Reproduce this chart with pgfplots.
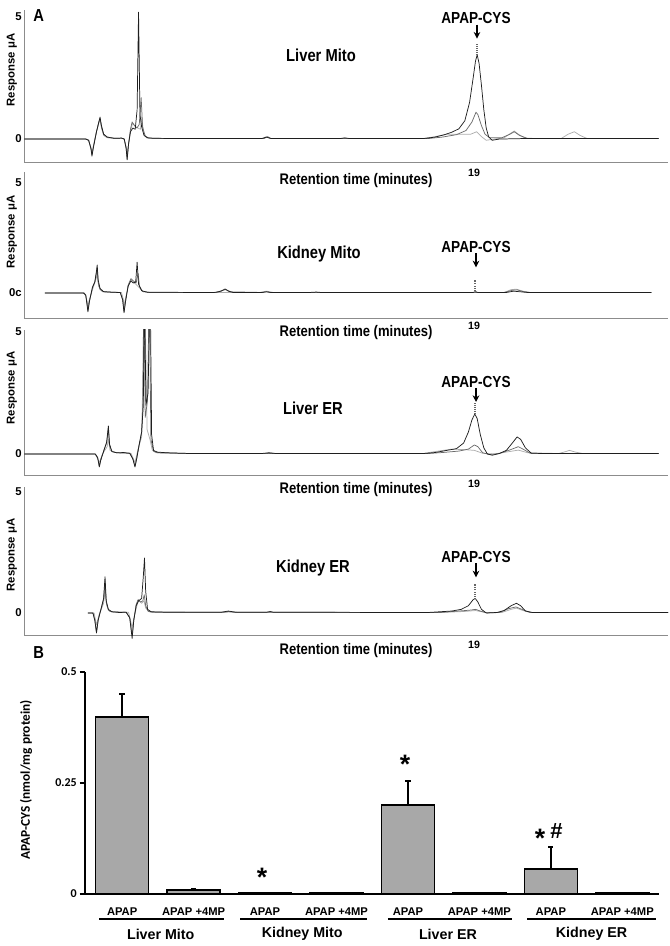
\documentclass[border=0pt]{standalone}
\usepackage{pgfplots}
\pgfplotsset{compat=1.18}
\usepackage{fontspec}
\setmainfont{Liberation Sans}
\newfontfamily\narrowf{Liberation Sans}[FakeStretch=0.85]
\newfontfamily\calf{Carlito}
\usetikzlibrary{arrows.meta}
\definecolor{trA}{gray}{0.12}
\definecolor{trB}{gray}{0.42}
\definecolor{trC}{gray}{0.68}
\definecolor{axg}{gray}{0.55}
\definecolor{barfill}{gray}{0.66}
\pgfplotsset{
 chrom/.style={scale only axis, width=483pt, xmin=0, xmax=27.1, anchor=south west,
   axis lines=left, axis line style={-, draw=axg, line width=0.7pt},
   xtick=\empty, ytick={0,5}, major tick length=0pt,
   yticklabel style={font=\bfseries\fontsize{8.5}{10}\selectfont, inner sep=1.5pt},
   every axis plot/.append style={line width=0.55pt, line join=round}},
}
\newcommand{\lab}{\narrowf\bfseries\fontsize{11.5}{13}\selectfont}
\newcommand{\labb}{\narrowf\bfseries\fontsize{13}{15}\selectfont}
\newcommand{\labc}{\narrowf\bfseries\fontsize{12}{14}\selectfont}
\newcommand{\catf}{\bfseries\fontsize{8.4}{9}\selectfont}
\newcommand{\grpf}{\bfseries\fontsize{10.7}{13}\selectfont}
\newcommand{\starf}{\bfseries\fontsize{20}{22}\selectfont}
\newcommand{\apap}[2]{%
  \node[font=\labc] at (#1) {APAP-CYS};
  \draw[-{Stealth[length=5pt,width=5pt]}, line width=1.6pt] (#2) -- ++(0,-10.5pt);}
\begin{document}
\begin{tikzpicture}
\useasboundingbox (0,0) rectangle (501.75pt,709.5pt);

% ---------------- Panel 1: Liver Mito
\begin{axis}[chrom, at={(18pt,588pt)}, height=114.2pt, ymin=-0.94, ymax=5.3, yticklabels={0,5}]
\addplot[trC] coordinates {(0,0.0) (2.6,0) (2.72,-0.05) (2.82,-0.35) (2.86,-0.6) (2.92,-0.3) (3.05,0.3) (3.15,0.65) (3.2,0.8) (3.26,0.45) (3.35,0.15) (3.5,0.05) (4.2,0.02) (4.3,-0.3) (4.34,-0.6) (4.42,-0.1) (4.5,0.4) (4.57,0.65) (4.7,0.5) (4.9,0.4) (4.96,0.9) (5.02,0.3) (5.15,0.05) (5.5,0.02) (10.05,0.02) (10.2,0.1) (10.35,0.02) (16.8,0.02) (17.3,0.1) (17.8,0.2) (18.3,0.2) (18.8,0.2) (19.05,0.3) (19.25,0.1) (19.45,-0.05) (19.8,0.0) (20.2,0.05) (20.5,0.25) (20.63,0.33) (20.8,0.2) (21.1,0.03) (22.6,0.02) (22.9,0.2) (23.16,0.3) (23.4,0.15) (23.7,0.02) (26.7,0.02)};
\addplot[trB] coordinates {(0,0) (2.6,0) (2.72,-0.05) (2.82,-0.4) (2.86,-0.65) (2.92,-0.3) (3.05,0.3) (3.15,0.7) (3.2,0.85) (3.26,0.5) (3.35,0.2) (3.5,0.08) (3.8,0.03) (4.1,0.04) (4.22,0.0) (4.3,-0.4) (4.34,-0.8) (4.4,-0.2) (4.48,0.4) (4.55,0.7) (4.65,0.55) (4.75,0.45) (4.85,0.6) (4.93,1.7) (4.99,0.5) (5.1,0.12) (5.25,0.04) (6,0.02) (10.1,0.02) (10.25,0.1) (10.4,0.02) (17.0,0.02) (17.6,0.08) (18.2,0.18) (18.6,0.35) (18.85,0.7) (19.02,1.1) (19.1,1.0) (19.25,0.55) (19.4,0.2) (19.6,0.05) (20.1,0.05) (20.45,0.2) (20.63,0.3) (20.85,0.15) (21.2,0.02) (26.7,0.02)};
\addplot[trA] coordinates {(0,0) (2.6,0) (2.72,-0.05) (2.82,-0.4) (2.86,-0.7) (2.92,-0.35) (3.05,0.3) (3.15,0.7) (3.2,0.9) (3.26,0.55) (3.35,0.2) (3.5,0.08) (3.8,0.03) (4.1,0.04) (4.22,0.0) (4.3,-0.4) (4.34,-0.85) (4.4,-0.2) (4.48,0.3) (4.58,0.45) (4.68,0.4) (4.76,1.2) (4.82,5.2) (4.88,1.0) (4.95,0.5) (5.05,0.15) (5.2,0.05) (5.5,0.03) (7,0.02) (10.0,0.02) (10.2,0.08) (10.4,0.02) (13.3,0.02) (13.5,0.05) (13.7,0.02) (16.8,0.02) (17.3,0.08) (17.7,0.18) (18.0,0.28) (18.3,0.42) (18.55,0.75) (18.75,1.5) (18.9,2.5) (19.0,3.2) (19.07,3.45) (19.15,3.1) (19.25,2.2) (19.35,1.2) (19.45,0.45) (19.55,0.1) (19.7,-0.05) (20.0,0.0) (21,0.02) (26.7,0.02)};
\addplot[black!60, densely dotted, line width=1.2pt] coordinates {(19.07,3.45) (19.07,3.95)};
\end{axis}

% ---------------- Panel 2: Kidney Mito
\begin{axis}[chrom, at={(18pt,471pt)}, height=109.5pt, ymin=-1.14, ymax=5.5, yticklabels={0c,5}]
\addplot[trC] coordinates {(0.88,0) (2.55,0) (2.66,-0.4) (2.69,-0.6) (2.75,-0.3) (2.9,0.2) (3.05,0.7) (3.08,0.9) (3.14,0.3) (3.3,0.05) (4.1,0.02) (4.18,-0.3) (4.21,-0.6) (4.28,-0.2) (4.4,0.35) (4.52,0.6) (4.65,0.45) (4.8,0.3) (5.0,0.06) (5.3,0.02) (9.9,0.02) (10.2,0.08) (10.5,0.02) (20.2,0.02) (20.5,0.15) (20.72,0.17) (21.0,0.08) (21.3,0.02) (26.4,0.02)};
\addplot[trB] coordinates {(0.88,0) (2.5,0) (2.6,-0.1) (2.66,-0.55) (2.69,-0.8) (2.75,-0.4) (2.88,0.25) (2.98,0.5) (3.05,0.9) (3.08,1.15) (3.12,0.5) (3.2,0.15) (3.35,0.05) (4.05,0.02) (4.15,-0.3) (4.21,-0.85) (4.27,-0.4) (4.38,0.35) (4.5,0.65) (4.6,0.55) (4.72,0.45) (4.8,0.9) (4.86,0.3) (5.0,0.06) (5.3,0.02) (8.1,0.02) (8.35,0.12) (8.5,0.15) (8.7,0.05) (10.05,0.02) (10.2,0.06) (10.35,0.02) (20.2,0.02) (20.55,0.12) (20.75,0.14) (21.0,0.06) (21.3,0.02) (26.4,0.02)};
\addplot[trA] coordinates {(0.88,0) (2.5,0) (2.6,-0.1) (2.66,-0.6) (2.69,-0.86) (2.75,-0.4) (2.88,0.25) (2.98,0.5) (3.05,1.0) (3.08,1.27) (3.12,0.6) (3.2,0.2) (3.35,0.06) (3.7,0.03) (4.05,0.02) (4.15,-0.3) (4.21,-0.9) (4.27,-0.4) (4.38,0.3) (4.5,0.55) (4.6,0.45) (4.7,0.5) (4.76,1.4) (4.82,0.4) (4.95,0.1) (5.2,0.03) (8.0,0.02) (8.3,0.08) (8.46,0.18) (8.6,0.08) (8.8,0.02) (10.0,0.02) (10.2,0.05) (10.4,0.02) (12,0.02) (12.3,0.04) (12.5,0.02) (18.9,0.02) (19.0,0.06) (19.1,0.02) (20.3,0.02) (20.6,0.08) (20.9,0.05) (21.2,0.02) (26.4,0.02)};
\addplot[black!60, densely dotted, line width=1.2pt] coordinates {(18.99,0.02) (18.99,0.6)};
\end{axis}

% ---------------- Panel 3: Liver ER
\begin{axis}[chrom, at={(18pt,353.25pt)}, height=109.1pt, ymin=-0.86, ymax=5.1, yticklabels={0,5}]
\addplot[trC] coordinates {(0,0) (3.0,0) (3.17,-0.35) (3.3,0.0) (3.5,0.3) (3.55,0.6) (3.62,0.15) (3.9,0.05) (4.5,0.03) (4.67,-0.35) (4.8,0.2) (4.95,0.7) (5.08,7) (5.18,1.0) (5.3,0.6) (5.4,0.15) (5.55,0.05) (5.8,0.03) (7,0.02) (10.1,0.02) (10.35,0.05) (10.6,0.02) (16.8,0.02) (17.3,0.1) (18.0,0.2) (18.5,0.18) (18.95,0.15) (19.3,0.03) (19.8,0.0) (20.3,0.08) (20.8,0.16) (21.2,0.05) (22.5,0.02) (22.8,0.1) (22.95,0.15) (23.2,0.08) (23.5,0.02) (26.7,0.02)};
\addplot[trB] coordinates {(0,0) (3.0,0) (3.1,-0.15) (3.17,-0.5) (3.23,-0.25) (3.38,0.2) (3.48,0.45) (3.55,1.05) (3.6,0.35) (3.7,0.1) (3.9,0.05) (4.45,0.03) (4.58,-0.2) (4.67,-0.5) (4.74,-0.2) (4.85,0.4) (4.95,0.9) (5.0,1.8) (5.04,7) (5.1,1.5) (5.2,2.2) (5.27,7) (5.34,0.6) (5.45,0.12) (5.6,0.06) (7,0.02) (17.0,0.02) (17.6,0.06) (18.3,0.12) (18.7,0.2) (18.95,0.37) (19.1,0.3) (19.3,0.05) (19.6,-0.02) (20.0,0.02) (20.4,0.15) (20.8,0.3) (21.0,0.2) (21.3,0.03) (22,0.02) (26.7,0.02)};
\addplot[trA] coordinates {(0,0) (3.0,0) (3.1,-0.15) (3.17,-0.53) (3.23,-0.25) (3.38,0.2) (3.48,0.5) (3.55,1.15) (3.6,0.4) (3.7,0.1) (3.9,0.05) (4.2,0.06) (4.45,0.03) (4.58,-0.2) (4.67,-0.53) (4.74,-0.2) (4.85,0.4) (4.95,0.9) (5.02,2.0) (5.07,7) (5.13,2.0) (5.22,2.5) (5.31,7) (5.37,0.8) (5.45,0.15) (5.6,0.08) (6,0.05) (7,0.02) (10,0.02) (10.3,0.05) (10.6,0.02) (16.8,0.02) (17.3,0.06) (17.8,0.15) (18.2,0.22) (18.5,0.45) (18.7,0.9) (18.85,1.4) (18.97,1.64) (19.07,1.45) (19.2,0.8) (19.35,0.25) (19.5,0.0) (19.7,-0.05) (20.0,0.02) (20.3,0.15) (20.55,0.45) (20.75,0.7) (20.9,0.6) (21.1,0.25) (21.35,0.03) (22,0.02) (26.7,0.02)};
\addplot[black!60, densely dotted, line width=1.2pt] coordinates {(18.97,1.64) (18.97,2.1)};
\end{axis}

% ---------------- Panel 4: Kidney ER
\begin{axis}[chrom, at={(18pt,233.25pt)}, height=110.9pt, ymin=-0.91, ymax=5.2, clip=false, yticklabels={0,5}]
\addplot[trC] coordinates {(2.69,0) (2.95,0) (3.05,-0.5) (3.15,-0.1) (3.35,0.4) (3.41,0.9) (3.48,0.3) (3.6,0.06) (4.4,0.03) (4.55,-0.6) (4.65,-0.1) (4.75,0.3) (4.82,0.55) (4.95,0.4) (5.05,0.5) (5.12,0.2) (5.3,0.04) (8.5,0.03) (8.8,0.05) (9.0,0.03) (17.5,0.02) (18.5,0.06) (19.0,0.1) (19.4,0.02) (20.1,0.02) (20.5,0.15) (20.72,0.2) (21.0,0.1) (21.3,0.02) (27.1,0.02)};
\addplot[trB] coordinates {(2.69,0) (2.9,0) (2.98,-0.3) (3.05,-0.78) (3.12,-0.3) (3.25,0.2) (3.35,0.55) (3.41,1.3) (3.46,0.45) (3.55,0.12) (3.7,0.04) (4.3,0.03) (4.45,-0.2) (4.55,-0.95) (4.62,-0.3) (4.72,0.35) (4.8,0.55) (4.9,0.45) (5.0,0.5) (5.06,0.75) (5.12,0.3) (5.22,0.07) (5.4,0.03) (8.4,0.03) (8.6,0.06) (8.8,0.03) (17.5,0.02) (18.3,0.08) (18.8,0.12) (19.0,0.15) (19.2,0.08) (19.5,0.0) (20.0,0.02) (20.4,0.18) (20.7,0.25) (20.95,0.15) (21.3,0.02) (27.1,0.02)};
\addplot[trA] coordinates {(2.69,0) (2.9,0) (2.98,-0.3) (3.05,-0.83) (3.12,-0.3) (3.25,0.2) (3.35,0.6) (3.41,1.5) (3.46,0.5) (3.55,0.15) (3.7,0.05) (4.0,0.02) (4.3,0.03) (4.45,-0.2) (4.55,-1.05) (4.62,-0.3) (4.72,0.3) (4.82,0.5) (4.95,0.6) (5.02,1.5) (5.07,2.27) (5.12,0.9) (5.2,0.15) (5.35,0.05) (6,0.03) (8.3,0.03) (8.6,0.08) (8.9,0.03) (10.2,0.03) (10.36,0.06) (10.5,0.03) (17.0,0.02) (17.5,0.05) (18.0,0.08) (18.4,0.15) (18.7,0.3) (18.9,0.55) (18.99,0.6) (19.1,0.45) (19.25,0.15) (19.45,0.0) (19.9,0.02) (20.2,0.1) (20.5,0.3) (20.72,0.4) (20.9,0.3) (21.1,0.08) (21.4,0.02) (27.1,0.02)};
\addplot[black!60, densely dotted, line width=1.2pt] coordinates {(18.99,0.6) (18.99,1.2)};
\end{axis}

% ---------------- Panel B: bar chart
\begin{axis}[scale only axis, width=430.5pt, height=166.5pt, at={(63.75pt,39pt)}, anchor=south west,
  xmin=-0.52, xmax=7.514, ymin=0, ymax=0.5, clip=false,
  axis lines=left, axis line style={-, line width=1.3pt, black},
  xtick=\empty, ytick={0,0.25,0.5}, yticklabels={0,0.25,0.5},
  tick align=outside, major tick length=4pt, ytick style={line width=1.1pt, black},
  yticklabel style={font=\calf\bfseries\fontsize{9}{10}\selectfont, inner sep=2pt}]
\addplot[ybar, bar shift=0pt, bar width=39.75pt, fill=barfill, draw=black, line width=1.2pt,
  error bars/.cd, y dir=plus, y explicit,
  error bar style={line width=1.3pt, black},
  error mark options={rotate=90, mark size=2pt, line width=1.6pt, black}]
  coordinates {(0,0.399) +- (0,0.051) (1,0.009) +- (0,0.002) (4,0.200) +- (0,0.055) (6,0.056) +- (0,0.050)};
\addplot[ybar, bar shift=0pt, bar width=39.75pt, fill=barfill, draw=black, line width=1.2pt]
  coordinates {(2,0.002) (3,0.002) (5,0.002) (7,0.002)};
% category labels
\node[font=\catf] at (axis cs:0,-0.0398) {APAP};
\node[font=\catf] at (axis cs:2,-0.0398) {APAP};
\node[font=\catf] at (axis cs:4,-0.0398) {APAP};
\node[font=\catf] at (axis cs:6,-0.0398) {APAP};
\node[font=\catf] at (axis cs:1,-0.0398) {APAP +4MP};
\node[font=\catf] at (axis cs:3,-0.0398) {APAP +4MP};
\node[font=\catf] at (axis cs:5,-0.0398) {APAP +4MP};
\node[font=\catf] at (axis cs:7,-0.0398) {APAP +4MP};
\draw[line width=1.1pt] (axis cs:-0.32,-0.0563) -- (axis cs:1.42,-0.0563);
\draw[line width=1.1pt] (axis cs:1.65,-0.0563) -- (axis cs:3.43,-0.0563);
\draw[line width=1.1pt] (axis cs:3.72,-0.0563) -- (axis cs:5.46,-0.0563);
\draw[line width=1.1pt] (axis cs:5.67,-0.0563) -- (axis cs:7.47,-0.0563);
\node[font=\grpf] at (axis cs:0.54,-0.09) {Liver Mito};
\node[font=\grpf] at (axis cs:2.52,-0.09) {Kidney Mito};
\node[font=\grpf] at (axis cs:4.56,-0.09) {Liver ER};
\node[font=\grpf] at (axis cs:6.57,-0.09) {Kidney ER};
% significance marks
\node[font=\starf, anchor=base, inner sep=0pt] at (axis cs:1.96,0.018) {*};
\node[font=\starf, anchor=base, inner sep=0pt] at (axis cs:3.96,0.272) {*};
\node[font=\starf, anchor=base, inner sep=0pt] at (axis cs:5.85,0.104) {*};
\node[font=\bfseries\fontsize{16.5}{18}\selectfont, inner sep=0pt] at (axis cs:6.08,0.141) {\#};
\end{axis}

% ---------------- text annotations
\node[font=\narrowf\bfseries\fontsize{13}{15}\selectfont] at (29pt,698pt) {A};
\node[font=\narrowf\bfseries\fontsize{13}{15}\selectfont] at (29pt,220pt) {B};

\node[font=\labb] at (240.75pt,668.25pt) {Liver Mito};
\node[font=\labb] at (239.25pt,519pt) {Kidney Mito};
\node[font=\labb] at (234.75pt,403.5pt) {Liver ER};
\node[font=\labb] at (234.75pt,283.5pt) {Kidney ER};

\apap{357pt,696pt}{357.75pt,691pt}
\apap{357pt,524.25pt}{357pt,519.5pt}
\apap{357pt,423pt}{357pt,418.5pt}
\apap{357pt,291.75pt}{357pt,287pt}

\node[font=\lab] at (267pt,573.75pt) {Retention time (minutes)};
\node[font=\bfseries\fontsize{8}{9}\selectfont] at (355.5pt,579.75pt) {19};
\node[font=\lab] at (267pt,459.75pt) {Retention time (minutes)};
\node[font=\bfseries\fontsize{8}{9}\selectfont] at (355.5pt,465pt) {19};
\node[font=\lab] at (267pt,342pt) {Retention time (minutes)};
\node[font=\bfseries\fontsize{8}{9}\selectfont] at (355.5pt,346.5pt) {19};
\node[font=\lab] at (267pt,221.25pt) {Retention time (minutes)};
\node[font=\bfseries\fontsize{8}{9}\selectfont] at (355.5pt,225.75pt) {19};

\node[font=\bfseries\fontsize{8.5}{10}\selectfont, rotate=90] at (9pt,657pt) {Response μA};
\node[font=\bfseries\fontsize{8.5}{10}\selectfont, rotate=90] at (9pt,535.5pt) {Response μA};
\node[font=\bfseries\fontsize{8.5}{10}\selectfont, rotate=90] at (9pt,418.5pt) {Response μA};
\node[font=\bfseries\fontsize{8.5}{10}\selectfont, rotate=90] at (9pt,293.25pt) {Response μA};
\node[font=\calf\bfseries\fontsize{10}{12}\selectfont, rotate=90] at (19.5pt,124.5pt) {APAP-CYS (nmol/mg protein)};
\end{tikzpicture}
\end{document}
